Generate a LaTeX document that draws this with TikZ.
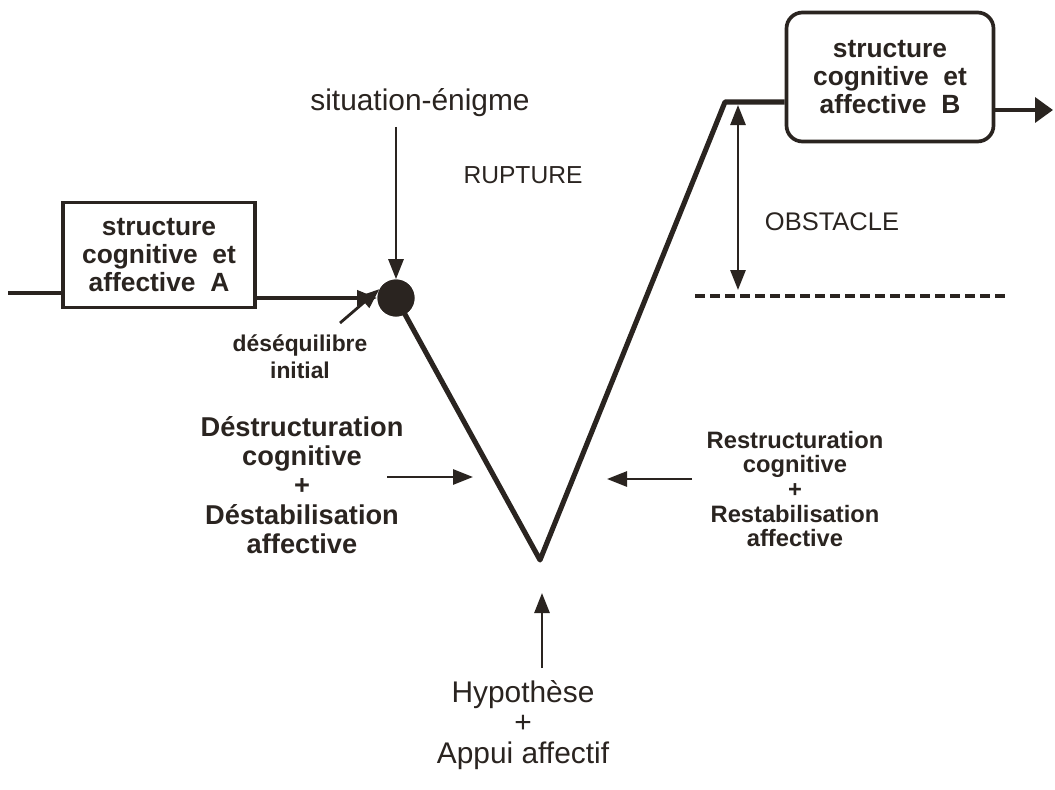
\documentclass[tikz,border=0pt]{standalone}
\usepackage{fontspec}
\setmainfont{Liberation Sans}
\usetikzlibrary{arrows.meta, positioning}
\definecolor{ink}{RGB}{42,36,32}

\begin{document}
\begin{tikzpicture}[x=0.2mm, y=-0.2mm, ink, every node/.style={text=ink},
  box/.style={draw=ink, line width=2.1pt, align=center, inner sep=0pt,
              font=\fontsize{15}{15.8}\selectfont\bfseries},
  lbl/.style={align=center, font=\fontsize{15.5}{16.6}\selectfont\bfseries},
  txt/.style={align=center, font=\fontsize{17}{17.5}\selectfont},
  lnk/.style={line width=2.1pt},
  arr/.style={-{Triangle[length=4mm, width=3mm]}, line width=1.6pt},
  dbl/.style={{Triangle[length=4mm, width=3mm]}-{Triangle[length=4mm, width=3mm]}, line width=1.6pt},
  vline/.style={line width=2.9pt, line join=round}
]
\useasboundingbox (0,0) rectangle (1055,789);
% structures A and B
\node[box, minimum width=38.4mm, minimum height=21mm] (boxA) at (159,255)
     {structure\\cognitive\ \ et\\affective\ \ A};
\node[box, rounded corners=3.2mm, minimum width=41.4mm, minimum height=25.8mm] (boxB) at (890,77)
     {structure\\cognitive\ \ et\\affective\ \ B};
% initial imbalance
\node[circle, fill=ink, minimum size=7.4mm, inner sep=0pt] (dot) at (396,298) {};
\node[txt] (sit) at (420,103) {situation-énigme};
\node[txt, font=\fontsize{14}{14}\selectfont] (rup) at (523,175) {RUPTURE};
\node[lbl, font=\fontsize{13}{15.4}\selectfont\bfseries] (deseq) at (300,357) {déséquilibre\\initial};
\coordinate (in) at (8,293);
\coordinate (dq) at (340,323);
\draw[lnk] (in) -- (in -| boxA.west);
\draw[arr, line width=2.1pt] (boxA.east |- dot.west) -- (dot.west);
\draw[arr] ([yshift=-2pt]sit.south -| dot.north) -- (dot.north);
\draw[arr] (dq) -- (dot.152);
% the V
\coordinate (vbot) at (540,560);
\coordinate (vtop) at (725,102);
\draw[vline] (dot.center) -- (vbot) -- (vtop) -- (vtop -| boxB.west);
\node[circle, fill=ink, minimum size=7.4mm, inner sep=0pt] at (dot) {};
\coordinate (out) at (1053,110);
\draw[{Triangle[length=3.6mm, width=5mm]}-, line width=2.1pt] (out) -- (boxB.east |- out);
% obstacle
\coordinate (obtop) at (738,105);
\coordinate (obbot) at (738,290);
\coordinate (dl) at (695,296);
\coordinate (dr) at (1005,296);
\draw[dbl] (obtop) -- (obbot);
\draw[line width=1.8pt, dash pattern=on 2mm off 1mm] (dl) -- (dr);
\node[txt, font=\fontsize{14.5}{14.5}\selectfont] (obs) at (832,222) {OBSTACLE};
% side labels
\node[lbl] (dest) at (302,485)
     {Déstructuration\\cognitive\\+\\Déstabilisation\\affective};
\node[lbl, font=\fontsize{13.5}{14}\selectfont\bfseries] (rest) at (795,489)
     {Restructuration\\cognitive\\+\\Restabilisation\\affective};
\coordinate (la) at (387,477);
\coordinate (lb) at (473,477);
\coordinate (ra) at (692,479);
\coordinate (rb) at (607,479);
\draw[arr] (la) -- (lb);
\draw[arr] (ra) -- (rb);
% hypothesis
\node[txt] (hyp) at (523,725) {Hypothèse\\+\\Appui affectif};
\coordinate (ha) at (542,668);
\coordinate (hb) at (542,593);
\draw[arr] (ha) -- (hb);
\end{tikzpicture}
\end{document}
